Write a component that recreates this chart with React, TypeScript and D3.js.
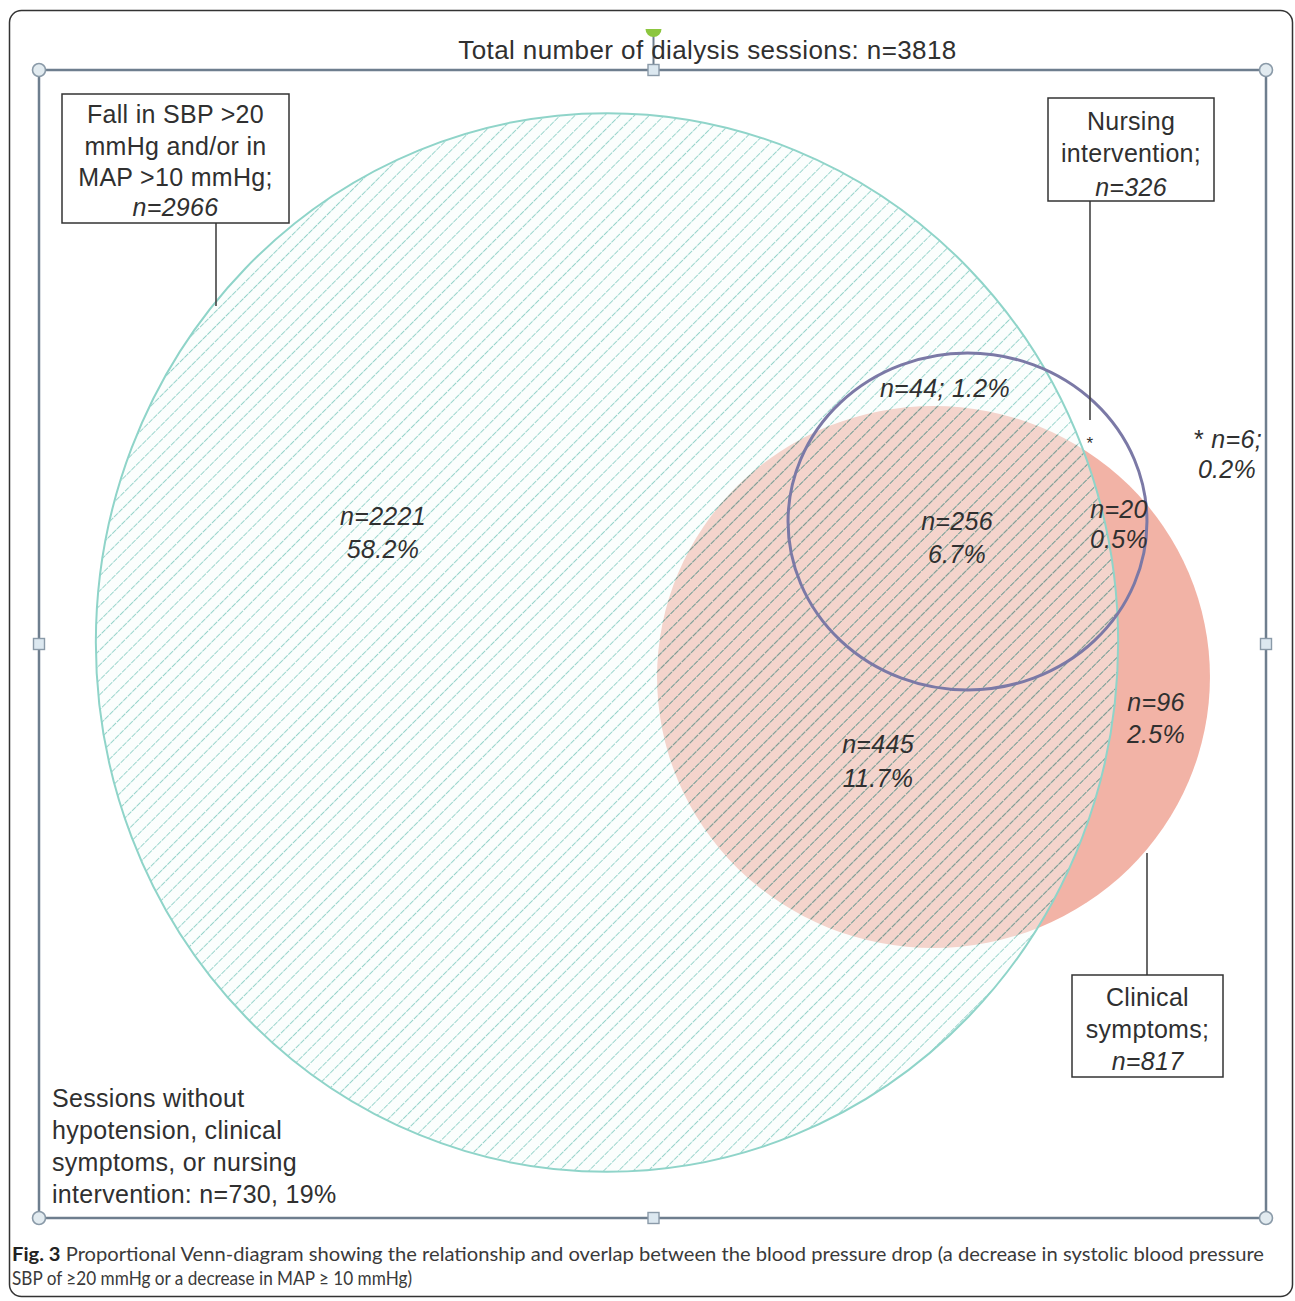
import React from 'react';
import * as d3 from 'd3';

// set totals (Venn circles)
const setKeys = ['hypo', 'clinical', 'nursing'];
const setCounts = [2966, 817, 326];
const setLabelLines = [
  ['Fall in SBP >20', 'mmHg and/or in', 'MAP >10 mmHg;'],
  ['Clinical', 'symptoms;'],
  ['Nursing', 'intervention;'],
];

// region counts + shares
const regionKeys = ['hypoOnly', 'hypoNurse', 'all3', 'hypoClin', 'clinNurse', 'clinOnly', 'nurseOnly', 'none'];
const regionCounts = [2221, 44, 256, 445, 20, 96, 6, 730];
const regionPercents = ['58.2%', '1.2%', '6.7%', '11.7%', '0.5%', '2.5%', '0.2%', '19%'];
const totalSessions = 3818;

const captionLines = [
  'Proportional Venn-diagram showing the relationship and overlap between the blood pressure drop (a decrease in systolic blood pressure',
  'SBP of \u226520 mmHg or a decrease in MAP \u2265 10 mmHg)',
];

// layout
const W = 1295;
const H = 1301;
const FONT = '"Liberation Sans", Arial, sans-serif';
const CAP_FONT = 'Lato, "Open Sans", sans-serif';
const frame = { x0: 39, y0: 70, x1: 1266, y1: 1218 };
const setCenters = [[607, 642.5], [933.5, 677], [967.5, 521.5]];
const setStretch = [[0.983, 1.018], [1.013, 0.993], [1.041, 0.977]];
const setBoxes = [
  { x: 62, y: 94, w: 227, h: 129, lead: [216, 223, 306] },
  { x: 1072, y: 975, w: 151, h: 102, lead: [1147, 975, 853] },
  { x: 1048, y: 98, w: 166, h: 103, lead: [1090, 201, 420] },
];
const boxBaselines = [[123, 155, 186, 216], [1006, 1038, 1070], [130, 162, 196]];

const rScale = d3.scaleSqrt().domain([0, setCounts[0]]).range([0, 520]);

export default function App() {
  const ell = (i: number) => {
    const r = rScale(setCounts[i]);
    return { cx: setCenters[i][0], cy: setCenters[i][1], rx: r * setStretch[i][0], ry: r * setStretch[i][1] };
  };
  const g = ell(0);
  const c = ell(1);
  const n = ell(2);

  const lab = { fill: '#303030', fontFamily: FONT, fontSize: 25, letterSpacing: 0.3 } as const;
  const it = { ...lab, fontStyle: 'italic' } as const;

  // in-diagram region label spots (x, baseline1, baseline2)
  const regionPos: Record<string, number[]> = {
    hypoOnly: [383, 525, 558],
    all3: [957, 530, 563],
    hypoClin: [878, 753, 787],
    clinNurse: [1119, 518, 548],
    clinOnly: [1156, 711, 743],
  };

  const ri = (k: string) => regionKeys.indexOf(k);

  const handleCircle = (x: number, y: number, key: string) => (
    <circle key={key} cx={x} cy={y} r={6.5} fill="#e2ebf0" stroke="#8a9aa8" strokeWidth={1.6} />
  );
  const handleSquare = (x: number, y: number, key: string) => (
    <rect key={key} x={x - 5.5} y={y - 5.5} width={11} height={11} fill="#dce8f0" stroke="#8a9aa8" strokeWidth={1.4} />
  );

  const midX = (frame.x0 + frame.x1) / 2;
  const midY = (frame.y0 + frame.y1) / 2;

  return (
    <svg width={W} height={H} style={{ position: 'absolute', left: 0, top: 0, background: '#fff' }}>
      <defs>
        <pattern id="hatchTeal" patternUnits="userSpaceOnUse" width={10.5} height={13} patternTransform="rotate(45)">
          <line x1={5.25} y1={0} x2={5.25} y2={13} stroke="#98d4cb" strokeWidth={1} strokeDasharray="5.5 1" />
        </pattern>
        <pattern id="hatchGray" patternUnits="userSpaceOnUse" width={10.5} height={13} patternTransform="rotate(45)">
          <line x1={5.25} y1={0} x2={5.25} y2={13} stroke="#8a978f" strokeWidth={1} strokeDasharray="5.5 1" />
        </pattern>
        <clipPath id="clipHypo">
          <ellipse cx={g.cx} cy={g.cy} rx={g.rx} ry={g.ry} />
        </clipPath>
      </defs>

      {/* figure frame */}
      <rect x={9.5} y={10.5} width={1283} height={1286} rx={12} fill="#fff" stroke="#333" strokeWidth={1.5} />

      {/* clinical symptoms */}
      <ellipse cx={c.cx} cy={c.cy} rx={c.rx} ry={c.ry} fill="#f2b3a6" />

      {/* hypotension set, hatched */}
      <ellipse cx={g.cx} cy={g.cy} rx={g.rx} ry={g.ry} fill="#f6fcfb" fillOpacity={0.45} />
      <g clipPath="url(#clipHypo)">
        <rect x={g.cx - g.rx} y={g.cy - g.ry} width={g.rx * 2} height={g.ry * 2} fill="url(#hatchTeal)" />
        <ellipse cx={c.cx} cy={c.cy} rx={c.rx} ry={c.ry} fill="url(#hatchGray)" />
      </g>
      <ellipse cx={g.cx} cy={g.cy} rx={g.rx} ry={g.ry} fill="none" stroke="#8fd4c9" strokeWidth={2} />

      {/* nursing intervention */}
      <ellipse cx={n.cx} cy={n.cy} rx={n.rx} ry={n.ry} fill="none" stroke="#7b79a6" strokeWidth={3} />

      {/* selection frame */}
      <rect x={frame.x0} y={frame.y0} width={frame.x1 - frame.x0} height={frame.y1 - frame.y0}
        fill="none" stroke="#6e7e8e" strokeWidth={2.5} />
      <line x1={midX + 1} y1={36} x2={midX + 1} y2={frame.y0} stroke="#6e7e8e" strokeWidth={2} />
      <path d={`M${midX - 7},29 A8,8 0 0,0 ${midX + 9},29 Z`} fill="#8cc63f" />
      {handleCircle(frame.x0, frame.y0, 'c1')}
      {handleCircle(frame.x1, frame.y0, 'c2')}
      {handleCircle(frame.x0, frame.y1, 'c3')}
      {handleCircle(frame.x1, frame.y1, 'c4')}
      {handleSquare(midX + 1, frame.y0, 's1')}
      {handleSquare(midX + 1, frame.y1, 's2')}
      {handleSquare(frame.x0, midY, 's3')}
      {handleSquare(frame.x1, midY, 's4')}

      {/* title */}
      <text x={707.5} y={59} textAnchor="middle" {...lab} fontSize={26} letterSpacing={0.4}>
        {`Total number of dialysis sessions: n=${totalSessions}`}
      </text>

      {/* set label boxes */}
      {setKeys.map((k, i) => {
        const b = setBoxes[i];
        const cx = b.x + b.w / 2;
        const bl = boxBaselines[i];
        return (
          <g key={k}>
            <line x1={b.lead[0]} y1={b.lead[1]} x2={b.lead[0]} y2={b.lead[2]} stroke="#444" strokeWidth={1.6} />
            <rect x={b.x} y={b.y} width={b.w} height={b.h} fill="#fff" stroke="#333" strokeWidth={1.5} />
            {setLabelLines[i].map((t, j) => (
              <text key={j} x={cx} y={bl[j]} textAnchor="middle" {...lab}>{t}</text>
            ))}
            <text x={cx} y={bl[bl.length - 1]} textAnchor="middle" {...it}>{`n=${setCounts[i]}`}</text>
          </g>
        );
      })}

      {/* region labels */}
      {Object.keys(regionPos).map((k) => {
        const p = regionPos[k];
        const i = ri(k);
        return (
          <g key={k}>
            <text x={p[0]} y={p[1]} textAnchor="middle" {...it}>{`n=${regionCounts[i]}`}</text>
            <text x={p[0]} y={p[2]} textAnchor="middle" {...it}>{regionPercents[i]}</text>
          </g>
        );
      })}
      <text x={945} y={397} textAnchor="middle" {...it}>
        {`n=${regionCounts[ri('hypoNurse')]}; ${regionPercents[ri('hypoNurse')]}`}
      </text>
      <text x={1090} y={449} textAnchor="middle" {...lab} fontSize={17}>*</text>
      <text x={1228} y={448} textAnchor="middle" {...it}>
        <tspan fontStyle="normal">*</tspan>{` n=${regionCounts[ri('nurseOnly')]};`}
      </text>
      <text x={1227} y={478} textAnchor="middle" {...it}>{regionPercents[ri('nurseOnly')]}</text>

      {/* sessions outside all sets */}
      {[
        'Sessions without',
        'hypotension, clinical',
        'symptoms, or nursing',
        `intervention: n=${regionCounts[ri('none')]}, ${regionPercents[ri('none')]}`,
      ].map((t, j) => (
        <text key={j} x={52} y={1107 + j * 32} {...lab}>{t}</text>
      ))}

      {/* caption */}
      <text x={12} y={1261} fontFamily={CAP_FONT} fontSize={19} fill="#3a3a3a"
        textLength={1252} lengthAdjust="spacingAndGlyphs">
        <tspan fontWeight="bold" fill="#222">Fig. 3</tspan> {captionLines[0]}
      </text>
      <text x={12} y={1285} fontFamily={CAP_FONT} fontSize={19} fill="#3a3a3a"
        textLength={400} lengthAdjust="spacingAndGlyphs">
        {captionLines[1]}
      </text>
    </svg>
  );
}
